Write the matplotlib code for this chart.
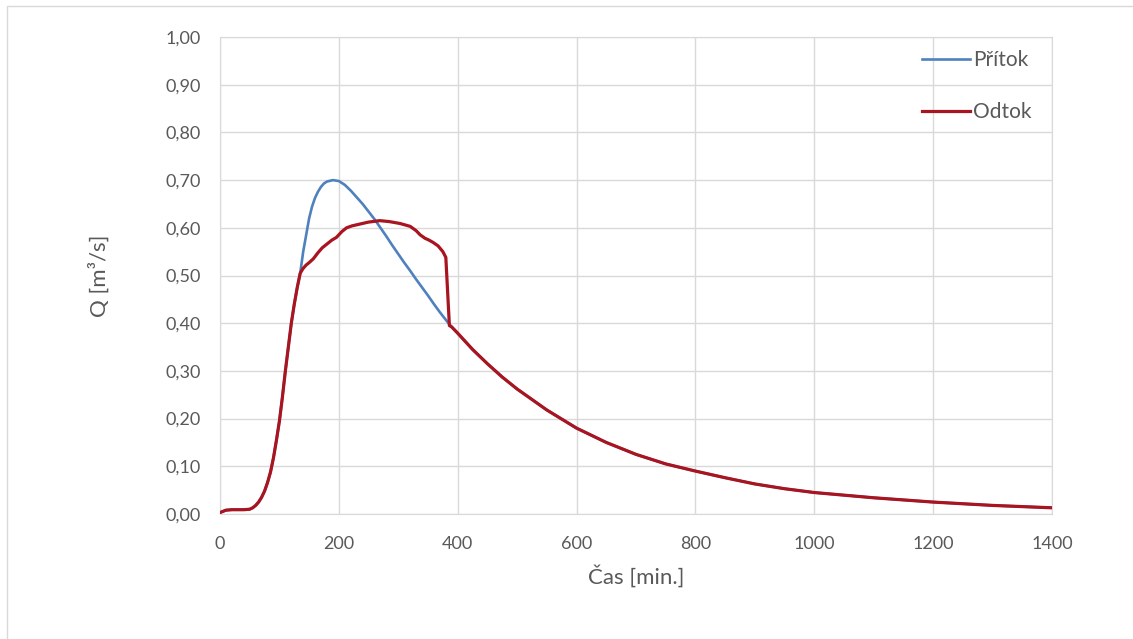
import matplotlib
matplotlib.use("Agg")
import matplotlib.pyplot as plt
from matplotlib.lines import Line2D

# time [min] and flows [m3/s]
t_in = [0, 10, 20, 30, 40, 50, 55, 60, 65, 70, 75, 80, 85, 90, 95, 100, 105, 110,
        115, 120, 125, 130, 135, 140, 145, 150, 155, 160, 165, 170, 175, 180, 190,
        200, 210, 220, 230, 240, 250, 260, 270, 280, 290, 300, 310, 320, 330, 340,
        350, 360, 370, 380, 390, 400, 425, 450, 475, 500, 550, 600, 650, 700, 750,
        800, 850, 900, 950, 1000, 1100, 1200, 1300, 1400]
q_in = [0.003, 0.008, 0.009, 0.009, 0.009, 0.010, 0.013, 0.018, 0.025, 0.035, 0.048,
        0.066, 0.088, 0.118, 0.155, 0.195, 0.245, 0.300, 0.350, 0.400, 0.440, 0.475,
        0.505, 0.550, 0.585, 0.620, 0.645, 0.663, 0.676, 0.686, 0.693, 0.697, 0.700,
        0.698, 0.690, 0.678, 0.664, 0.650, 0.634, 0.618, 0.600, 0.582, 0.563, 0.545,
        0.527, 0.510, 0.492, 0.475, 0.458, 0.440, 0.423, 0.407, 0.392, 0.379, 0.345,
        0.315, 0.287, 0.262, 0.218, 0.180, 0.150, 0.125, 0.105, 0.090, 0.076, 0.063,
        0.053, 0.045, 0.034, 0.025, 0.018, 0.013]

t_out = [0, 10, 20, 30, 40, 50, 55, 60, 65, 70, 75, 80, 85, 90, 95, 100, 105, 110,
         115, 120, 125, 130, 135, 140, 145, 150, 157, 165, 172, 180, 188, 196, 205,
         213, 222, 236, 250, 269, 285, 303, 320, 330, 337, 345, 352, 359, 367, 375,
         380, 386, 390, 400, 425, 450, 475, 500, 550, 600, 650, 700, 750, 800, 850,
         900, 950, 1000, 1100, 1200, 1300, 1400]
q_out = [0.003, 0.008, 0.009, 0.009, 0.009, 0.010, 0.013, 0.018, 0.025, 0.035, 0.048,
         0.066, 0.088, 0.118, 0.155, 0.195, 0.245, 0.300, 0.350, 0.400, 0.440, 0.475,
         0.505, 0.515, 0.522, 0.527, 0.535, 0.548, 0.558, 0.566, 0.574, 0.580, 0.592,
         0.600, 0.604, 0.608, 0.612, 0.615, 0.613, 0.609, 0.603, 0.594, 0.585, 0.578,
         0.574, 0.569, 0.562, 0.550, 0.538, 0.395, 0.392, 0.379, 0.345, 0.315, 0.287,
         0.262, 0.218, 0.180, 0.150, 0.125, 0.105, 0.090, 0.076, 0.063, 0.053, 0.045,
         0.034, 0.025, 0.018, 0.013]

x_ticks = [0, 200, 400, 600, 800, 1000, 1200, 1400]
y_ticks = [0.0, 0.1, 0.2, 0.3, 0.4, 0.5, 0.6, 0.7, 0.8, 0.9, 1.0]

plt.rcParams['font.family'] = ['Lato', 'DejaVu Sans']
txt = '#595959'
grid = '#D9D9D9'

fig = plt.figure(figsize=(11.33, 6.39), dpi=100)
ax = fig.add_axes([220/1133, 1-514/639, 832/1133, 477/639])

ax.plot(t_in, q_in, color='#4F81BD', lw=1.9, label='Přítok', zorder=3)
ax.plot(t_out, q_out, color='#A8141F', lw=2.3, label='Odtok', zorder=4)

ax.set_xlim(0, 1400)
ax.set_ylim(0, 1.0)
ax.set_xticks(x_ticks)
ax.set_yticks(y_ticks)
ax.set_yticklabels([f"{v:.2f}".replace('.', ',') for v in y_ticks])
ax.grid(True, color=grid, lw=1.0)
ax.set_axisbelow(True)
for s in ax.spines.values():
    s.set_color(grid)
ax.tick_params(length=0, labelsize=13, colors=txt)
ax.tick_params(axis='y', pad=14)
ax.tick_params(axis='x', pad=16)

ax.set_xlabel('Čas [min.]', fontsize=16, color=txt, labelpad=9)
ax.set_ylabel('Q [m³/s]', fontsize=16, color=txt, labelpad=40)

ax.legend(loc='upper left', bbox_to_anchor=(922/1133, 1-50/639),
          bbox_transform=fig.transFigure, frameon=False, fontsize=15,
          labelcolor=txt, handlelength=2.3, handletextpad=0.15,
          labelspacing=1.55, borderpad=0, borderaxespad=0)

# thin chart-area border (top and left visible)
fig.add_artist(Line2D([7/1133, 7/1133, 1], [0, 1-6/639, 1-6/639],
                      transform=fig.transFigure, color='#D9D9D9', lw=1.0))

fig.savefig('out.png', dpi=100, facecolor='white')
